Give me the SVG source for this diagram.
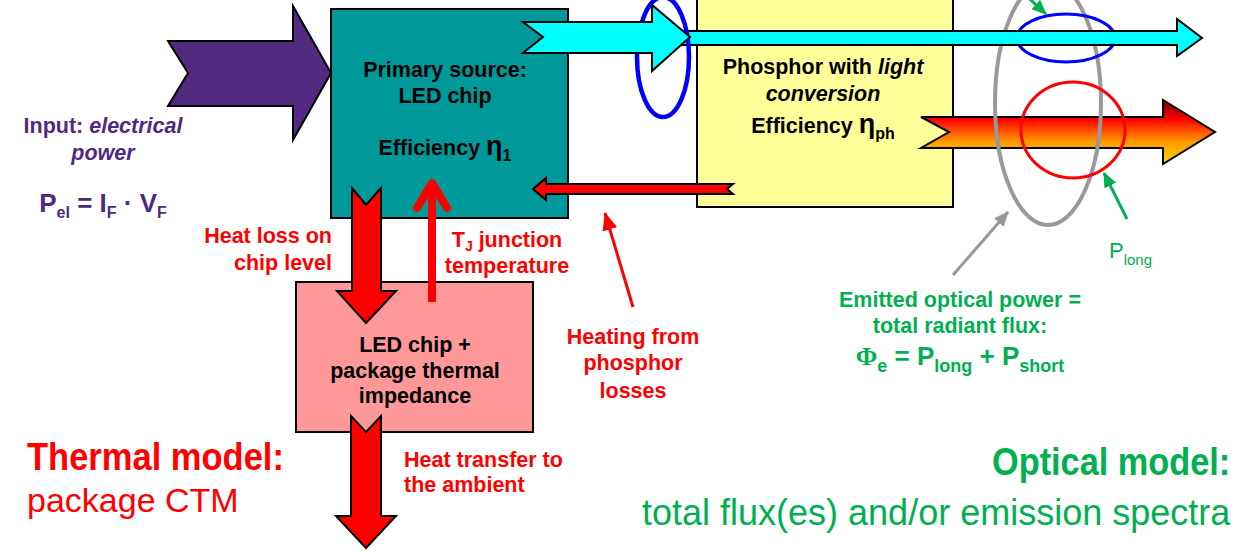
<svg xmlns="http://www.w3.org/2000/svg" width="1233" height="551" viewBox="0 0 1233 551">
<style>
  text { font-family: "Liberation Sans", Arial, sans-serif; }
  .b { font-weight: bold; font-size: 21.5px; }
  .ctr { text-anchor: middle; }
  .end { text-anchor: end; }
  .blk { fill: #000; }
  .red { fill: #FF0000; }
  .pur { fill: #502A80; }
  .grn { fill: #00B050; }
  .title { font-weight: bold; font-size: 39px; }
  .box { stroke: #000; stroke-width: 2; }
  .arw { stroke: #000; stroke-width: 2; stroke-linejoin: miter; }
</style>
<defs>
  <linearGradient id="fire" x1="0" y1="100" x2="0" y2="164" gradientUnits="userSpaceOnUse">
    <stop offset="0" stop-color="#7A0000"/>
    <stop offset="0.3" stop-color="#FF0000"/>
    <stop offset="0.65" stop-color="#FF9900"/>
    <stop offset="1" stop-color="#FFD700"/>
  </linearGradient>
  <marker id="ahGreen" markerWidth="15" markerHeight="13" refX="14" refY="6.5" orient="auto" markerUnits="userSpaceOnUse">
    <path d="M0,0 L15,6.5 L0,13 z" fill="#00B050"/>
  </marker>
  <marker id="ahGray" markerWidth="15" markerHeight="13" refX="14" refY="6.5" orient="auto" markerUnits="userSpaceOnUse">
    <path d="M0,0 L15,6.5 L0,13 z" fill="#999999"/>
  </marker>
  <marker id="ahRed" markerWidth="18" markerHeight="15" refX="17" refY="7.5" orient="auto" markerUnits="userSpaceOnUse">
    <path d="M0,0 L18,7.5 L0,15 z" fill="#FF0000"/>
  </marker>
</defs>

<!-- Input node -->
<g id="input">
  <polygon class="arw" fill="#522B80" points="168,41 293,41 293,6 331,73 293,140 293,106 168,106 188,73"/>
  <text class="b pur ctr" x="103" y="133">Input: <tspan font-style="italic">electrical</tspan></text>
  <text class="b pur ctr" x="103" y="160" font-style="italic">power</text>
  <text class="pur ctr" x="103" y="212" font-weight="bold" font-size="26">P<tspan font-size="16" dy="6">el</tspan><tspan dy="-6"> = I</tspan><tspan font-size="16" dy="6">F</tspan><tspan dy="-6"> · V</tspan><tspan font-size="16" dy="6">F</tspan></text>
</g>

<!-- Primary source: LED chip -->
<g id="led-chip">
  <rect class="box" x="331" y="9" width="237" height="209" fill="#009999"/>
  <text class="b blk ctr" x="445" y="77">Primary source:</text>
  <text class="b blk ctr" x="445" y="103">LED chip</text>
  <text class="b blk ctr" x="445" y="155">Efficiency <tspan font-size="27">η</tspan><tspan font-size="16" dy="6">1</tspan></text>
</g>

<!-- Phosphor -->
<g id="phosphor">
  <rect class="box" x="697" y="-5" width="256" height="212" fill="#FFFF99"/>
  <text class="b blk ctr" x="823" y="74">Phosphor with <tspan font-style="italic">light</tspan></text>
  <text class="b blk ctr" x="823" y="101" font-style="italic">conversion</text>
  <text class="b blk ctr" x="823" y="133">Efficiency <tspan font-size="27">η</tspan><tspan font-size="16" dy="6">ph</tspan></text>
</g>

<!-- Package thermal impedance -->
<g id="package">
  <rect class="box" x="296" y="282" width="237" height="150" fill="#FF9999"/>
  <text class="b blk ctr" x="415" y="352">LED chip +</text>
  <text class="b blk ctr" x="415" y="378">package thermal</text>
  <text class="b blk ctr" x="415" y="403">impedance</text>
</g>

<!-- Connectors -->
<g id="connectors">
  <polygon class="arw" fill="url(#fire)" points="921,117 1163,117 1163,100 1215,132 1163,164 1163,148 921,148 949,132"/>
  <ellipse cx="1048" cy="103" rx="53" ry="122" fill="none" stroke="#999999" stroke-width="4"/>
  <ellipse cx="1073" cy="130" rx="52" ry="48" fill="none" stroke="#FF0000" stroke-width="3"/>
  <ellipse cx="1066" cy="38" rx="49" ry="24" fill="none" stroke="#0000FF" stroke-width="3"/>
  <polygon class="arw" fill="#00FFFF" points="680,31 1177,31 1177,19 1202,38 1177,56 1177,45 680,45"/>
  <ellipse cx="663" cy="57" rx="26" ry="60" fill="none" stroke="#0000FF" stroke-width="4.5"/>
  <polygon class="arw" fill="#00FFFF" points="523,22 652,22 652,5 690,37 652,71 652,53 523,53 543,37"/>
  <polygon class="arw" fill="#FF0000" stroke-width="1.5" points="733,184 546,184 546,178 533,189 546,200 546,194 733,194 727,189"/>
  <polygon class="arw" fill="#FF0000" points="352,188 366,205 381,188 381,291 396,291 366,323 337,291 352,291"/>
  <line x1="432" y1="302" x2="432" y2="184" stroke="#FF0000" stroke-width="8"/>
  <polyline points="417,208 432,183 447,208" fill="none" stroke="#FF0000" stroke-width="8" stroke-linecap="round" stroke-linejoin="round"/>
  <polygon class="arw" fill="#FF0000" points="351,416 366,432 381,416 381,516 396,516 366,548 336,516 351,516"/>
  <line x1="633" y1="307" x2="605" y2="213" stroke="#FF0000" stroke-width="3" marker-end="url(#ahRed)"/>
  <line x1="1020" y1="-10" x2="1046" y2="14" stroke="#00B050" stroke-width="3" marker-end="url(#ahGreen)"/>
  <line x1="1127" y1="219" x2="1104" y2="173" stroke="#00B050" stroke-width="3" marker-end="url(#ahGreen)"/>
  <line x1="953" y1="275" x2="1008" y2="212" stroke="#999999" stroke-width="3" marker-end="url(#ahGray)"/>
</g>

<!-- Labels -->
<g id="labels">
  <text class="b red end" x="332" y="243">Heat loss on</text>
  <text class="b red end" x="332" y="270">chip level</text>
  <text class="b red ctr" x="507" y="247">T<tspan font-size="14" dy="4">J</tspan><tspan dy="-4"> junction</tspan></text>
  <text class="b red ctr" x="507" y="273">temperature</text>
  <text class="b red ctr" x="633" y="344">Heating from</text>
  <text class="b red ctr" x="633" y="370">phosphor</text>
  <text class="b red ctr" x="633" y="398">losses</text>
  <text class="b red" x="404" y="467">Heat transfer to</text>
  <text class="b red" x="404" y="492">the ambient</text>
  <text class="title red" transform="translate(27 470) scale(0.885 1)">Thermal model:</text>
  <text class="red" x="27" y="512" font-size="34">package CTM</text>

  <text class="grn" x="1109" y="258" font-size="22">P<tspan font-size="15" dy="7">long</tspan></text>
  <text class="b grn ctr" x="960" y="307" font-size="22">Emitted optical power =</text>
  <text class="b grn ctr" x="960" y="333" font-size="22">total radiant flux:</text>
  <text class="grn ctr" x="960" y="365" font-weight="bold" font-size="26"><tspan font-family="Liberation Serif, serif">Φ</tspan><tspan font-size="18" dy="7">e</tspan><tspan dy="-7"> = P</tspan><tspan font-size="18" dy="7">long</tspan><tspan dy="-7"> + P</tspan><tspan font-size="18" dy="7">short</tspan></text>
  <text class="title grn" transform="translate(992 475) scale(0.88 1)">Optical model:</text>
  <text class="grn" x="642" y="525" font-size="36">total flux(es) and/or emission spectra</text>
</g>
</svg>
